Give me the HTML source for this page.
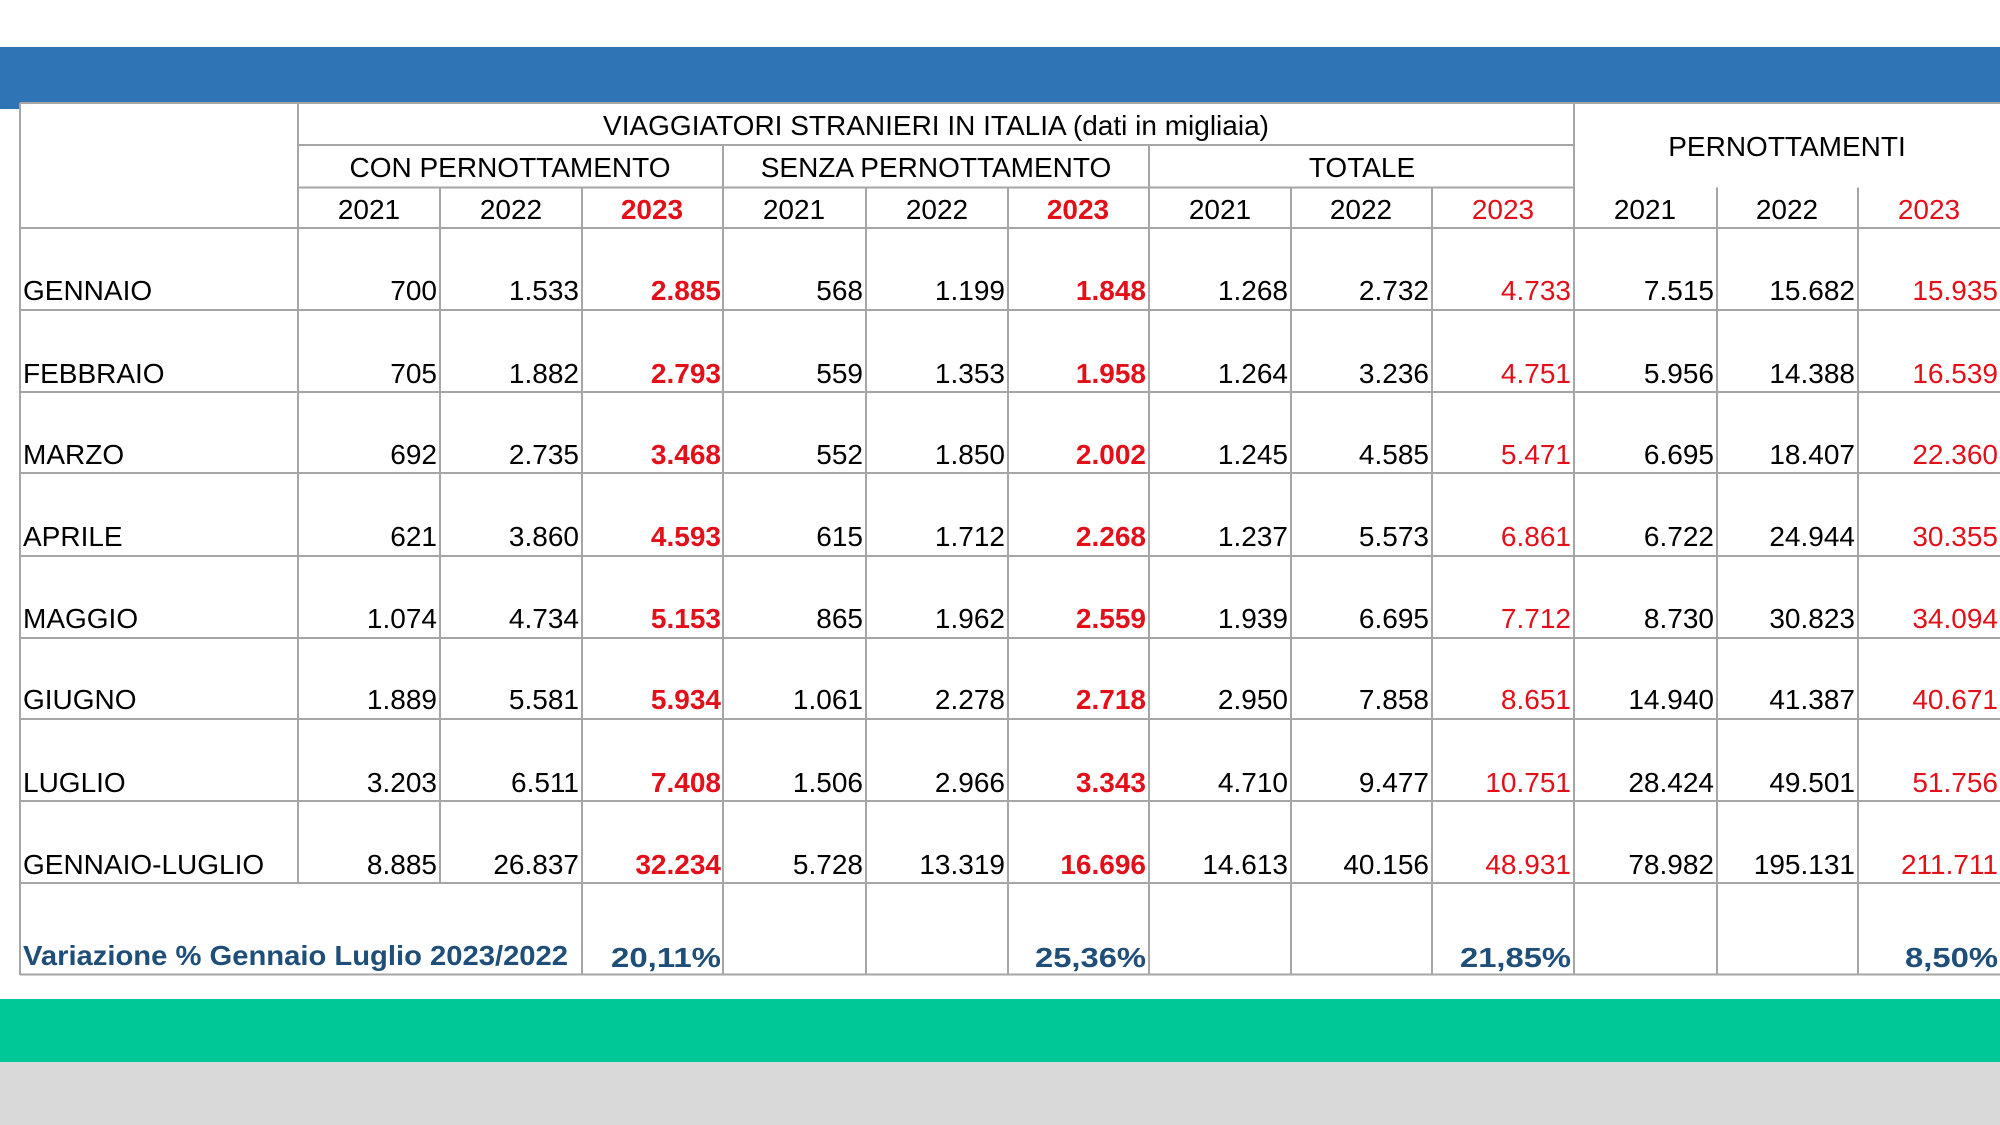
<!DOCTYPE html>
<html><head><meta charset="utf-8"><style>
html,body{margin:0;padding:0;background:#fff;}
svg{display:block;}
text{font-family:"Liberation Sans",sans-serif;font-size:28px;fill:#000;}
.r{fill:#e3101a;}
.b{font-weight:bold;}
.n{fill:#1f4e79;font-weight:bold;}
</style></head><body>
<svg width="2000" height="1125" viewBox="0 0 2000 1125" xmlns="http://www.w3.org/2000/svg">
<rect x="0" y="0" width="2000" height="1125" fill="#fff"/>
<rect x="0" y="47" width="2000" height="62" fill="#2e75b6"/>
<rect x="20" y="103" width="1990" height="872" fill="#fff"/>
<rect x="0" y="999" width="2000" height="63" fill="#00c896"/>
<rect x="0" y="1062" width="2000" height="63" fill="#d9d9d9"/>
<g stroke="#a6a6a6" stroke-width="2" fill="none">
<line x1="20" y1="103" x2="2000" y2="103"/>
<line x1="298" y1="145" x2="1574" y2="145"/>
<line x1="298" y1="187.5" x2="1574" y2="187.5"/>
<line x1="20" y1="228" x2="2000" y2="228"/>
<line x1="20" y1="310" x2="2000" y2="310"/>
<line x1="20" y1="392" x2="2000" y2="392"/>
<line x1="20" y1="473" x2="2000" y2="473"/>
<line x1="20" y1="556" x2="2000" y2="556"/>
<line x1="20" y1="638" x2="2000" y2="638"/>
<line x1="20" y1="719" x2="2000" y2="719"/>
<line x1="20" y1="801" x2="2000" y2="801"/>
<line x1="20" y1="883" x2="2000" y2="883"/>
<line x1="20" y1="974.5" x2="2000" y2="974.5"/>
<line x1="20" y1="103" x2="20" y2="975"/>
<line x1="298" y1="103" x2="298" y2="883"/>
<line x1="1574" y1="103" x2="1574" y2="975"/>
<line x1="723" y1="145" x2="723" y2="975"/>
<line x1="1149" y1="145" x2="1149" y2="975"/>
<line x1="440" y1="187.5" x2="440" y2="883"/>
<line x1="582" y1="187.5" x2="582" y2="975"/>
<line x1="866" y1="187.5" x2="866" y2="975"/>
<line x1="1008" y1="187.5" x2="1008" y2="975"/>
<line x1="1291" y1="187.5" x2="1291" y2="975"/>
<line x1="1432" y1="187.5" x2="1432" y2="975"/>
<line x1="1717" y1="187.5" x2="1717" y2="975"/>
<line x1="1858" y1="187.5" x2="1858" y2="975"/>
</g>
<g text-anchor="middle">
<text x="936" y="135">VIAGGIATORI STRANIERI IN ITALIA (dati in migliaia)</text>
<text x="1787" y="156">PERNOTTAMENTI</text>
<text x="510" y="177">CON PERNOTTAMENTO</text>
<text x="936" y="177">SENZA PERNOTTAMENTO</text>
<text x="1362" y="177">TOTALE</text>
<text x="369" y="219">2021</text><text x="511" y="219">2022</text><text x="652" y="219" class="r b">2023</text>
<text x="794" y="219">2021</text><text x="937" y="219">2022</text><text x="1078" y="219" class="r b">2023</text>
<text x="1220" y="219">2021</text><text x="1361" y="219">2022</text><text x="1503" y="219" class="r">2023</text>
<text x="1645" y="219">2021</text><text x="1787" y="219">2022</text><text x="1929" y="219" class="r">2023</text>
</g>
<g>
<text x="23" y="300">GENNAIO</text>
<text x="23" y="383">FEBBRAIO</text>
<text x="23" y="464">MARZO</text>
<text x="23" y="546">APRILE</text>
<text x="23" y="628">MAGGIO</text>
<text x="23" y="709">GIUGNO</text>
<text x="23" y="792">LUGLIO</text>
<text x="23" y="874">GENNAIO-LUGLIO</text>
<text x="23" y="965" class="n" font-size="27" textLength="545" lengthAdjust="spacingAndGlyphs">Variazione % Gennaio Luglio 2023/2022</text>
</g>
<g text-anchor="end">
<text x="437" y="300">700</text><text x="579" y="300">1.533</text><text x="721" y="300" class="r b">2.885</text><text x="863" y="300">568</text><text x="1005" y="300">1.199</text><text x="1146" y="300" class="r b">1.848</text><text x="1288" y="300">1.268</text><text x="1429" y="300">2.732</text><text x="1571" y="300" class="r">4.733</text><text x="1714" y="300">7.515</text><text x="1855" y="300">15.682</text><text x="1998" y="300" class="r">15.935</text>
<text x="437" y="383">705</text><text x="579" y="383">1.882</text><text x="721" y="383" class="r b">2.793</text><text x="863" y="383">559</text><text x="1005" y="383">1.353</text><text x="1146" y="383" class="r b">1.958</text><text x="1288" y="383">1.264</text><text x="1429" y="383">3.236</text><text x="1571" y="383" class="r">4.751</text><text x="1714" y="383">5.956</text><text x="1855" y="383">14.388</text><text x="1998" y="383" class="r">16.539</text>
<text x="437" y="464">692</text><text x="579" y="464">2.735</text><text x="721" y="464" class="r b">3.468</text><text x="863" y="464">552</text><text x="1005" y="464">1.850</text><text x="1146" y="464" class="r b">2.002</text><text x="1288" y="464">1.245</text><text x="1429" y="464">4.585</text><text x="1571" y="464" class="r">5.471</text><text x="1714" y="464">6.695</text><text x="1855" y="464">18.407</text><text x="1998" y="464" class="r">22.360</text>
<text x="437" y="546">621</text><text x="579" y="546">3.860</text><text x="721" y="546" class="r b">4.593</text><text x="863" y="546">615</text><text x="1005" y="546">1.712</text><text x="1146" y="546" class="r b">2.268</text><text x="1288" y="546">1.237</text><text x="1429" y="546">5.573</text><text x="1571" y="546" class="r">6.861</text><text x="1714" y="546">6.722</text><text x="1855" y="546">24.944</text><text x="1998" y="546" class="r">30.355</text>
<text x="437" y="628">1.074</text><text x="579" y="628">4.734</text><text x="721" y="628" class="r b">5.153</text><text x="863" y="628">865</text><text x="1005" y="628">1.962</text><text x="1146" y="628" class="r b">2.559</text><text x="1288" y="628">1.939</text><text x="1429" y="628">6.695</text><text x="1571" y="628" class="r">7.712</text><text x="1714" y="628">8.730</text><text x="1855" y="628">30.823</text><text x="1998" y="628" class="r">34.094</text>
<text x="437" y="709">1.889</text><text x="579" y="709">5.581</text><text x="721" y="709" class="r b">5.934</text><text x="863" y="709">1.061</text><text x="1005" y="709">2.278</text><text x="1146" y="709" class="r b">2.718</text><text x="1288" y="709">2.950</text><text x="1429" y="709">7.858</text><text x="1571" y="709" class="r">8.651</text><text x="1714" y="709">14.940</text><text x="1855" y="709">41.387</text><text x="1998" y="709" class="r">40.671</text>
<text x="437" y="792">3.203</text><text x="579" y="792">6.511</text><text x="721" y="792" class="r b">7.408</text><text x="863" y="792">1.506</text><text x="1005" y="792">2.966</text><text x="1146" y="792" class="r b">3.343</text><text x="1288" y="792">4.710</text><text x="1429" y="792">9.477</text><text x="1571" y="792" class="r">10.751</text><text x="1714" y="792">28.424</text><text x="1855" y="792">49.501</text><text x="1998" y="792" class="r">51.756</text>
<text x="437" y="874">8.885</text><text x="579" y="874">26.837</text><text x="721" y="874" class="r b">32.234</text><text x="863" y="874">5.728</text><text x="1005" y="874">13.319</text><text x="1146" y="874" class="r b">16.696</text><text x="1288" y="874">14.613</text><text x="1429" y="874">40.156</text><text x="1571" y="874" class="r">48.931</text><text x="1714" y="874">78.982</text><text x="1855" y="874">195.131</text><text x="1998" y="874" class="r">211.711</text>
<text x="721" y="967" class="n" font-size="40" textLength="110" lengthAdjust="spacingAndGlyphs">20,11%</text>
<text x="1146" y="967" class="n" font-size="40" textLength="111" lengthAdjust="spacingAndGlyphs">25,36%</text>
<text x="1571" y="967" class="n" font-size="40" textLength="111" lengthAdjust="spacingAndGlyphs">21,85%</text>
<text x="1998" y="967" class="n" font-size="40" textLength="93" lengthAdjust="spacingAndGlyphs">8,50%</text>
</g>
</svg>
</body></html>
